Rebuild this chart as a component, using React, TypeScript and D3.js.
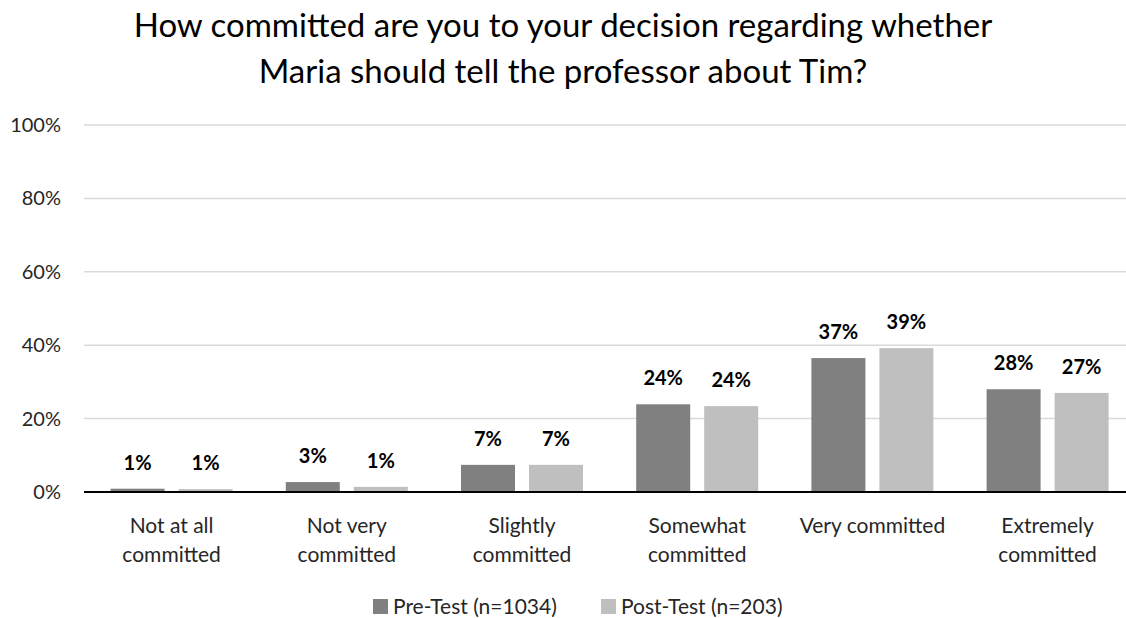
import React from "react";
import * as d3 from "d3";

const categories: string[][] = [
  ["Not at all", "committed"],
  ["Not very", "committed"],
  ["Slightly", "committed"],
  ["Somewhat", "committed"],
  ["Very committed"],
  ["Extremely", "committed"],
];
const categoryKeys = ["c1", "c2", "c3", "c4", "c5", "c6"];
const seriesNames = ["Pre-Test (n=1034)", "Post-Test (n=203)"];
const preTest = [0.9, 2.7, 7.4, 23.9, 36.5, 28.0];
const postTest = [0.8, 1.4, 7.4, 23.4, 39.2, 27.0];
const preLabels = ["1%", "3%", "7%", "24%", "37%", "28%"];
const postLabels = ["1%", "1%", "7%", "24%", "39%", "27%"];
const yTicks = [0, 20, 40, 60, 80, 100];
const titleLines = [
  "How committed are you to your decision regarding whether",
  "Maria should tell the professor about Tim?",
];
const colors = ["#808080", "#bfbfbf"];

const W = 1126;
const H = 618;
const FONT = "Lato, 'Open Sans', sans-serif";

export default function App() {
  const y = d3.scaleLinear().domain([0, 100]).range([492, 125]);
  const x0 = d3
    .scaleBand<string>()
    .domain(categoryKeys)
    .range([84, 84 + 6 * 175.2])
    .paddingInner(0)
    .paddingOuter(0);
  const x1 = d3
    .scaleBand<number>()
    .domain([0, 1])
    .range([0, x0.bandwidth()])
    .paddingInner(0.206)
    .paddingOuter(0.391);
  const values = [preTest, postTest];
  const labels = [preLabels, postLabels];

  return (
    <svg
      width={W}
      height={H}
      style={{ position: "absolute", left: 0, top: 0, background: "#fff" }}
      fontFamily={FONT}
    >
      <rect x={0} y={0} width={W} height={H} fill="#fff" />
      {titleLines.map((t, i) => (
        <text
          key={i}
          x={563}
          y={37 + i * 46}
          textAnchor="middle"
          fontSize={33}
          fill="#000"
        >
          {t}
        </text>
      ))}
      {yTicks.map((t) => (
        <g key={t}>
          {t !== 0 && (
            <line
              x1={84}
              x2={W}
              y1={y(t)}
              y2={y(t)}
              stroke="#d9d9d9"
              strokeWidth={1.5}
            />
          )}
          <text
            x={61}
            y={y(t)}
            dy="0.35em"
            textAnchor="end"
            fontSize={20}
            fill="#262626"
          >
            {t + "%"}
          </text>
        </g>
      ))}
      {categoryKeys.map((k, ci) => (
        <g key={k} transform={`translate(${x0(k)},0)`}>
          {values.map((vals, si) => (
            <g key={si}>
              <rect
                x={x1(si)}
                y={y(vals[ci])}
                width={x1.bandwidth()}
                height={y(0) - y(vals[ci])}
                fill={colors[si]}
              />
              <text
                x={(x1(si) as number) + x1.bandwidth() / 2}
                y={y(vals[ci]) - 19}
                textAnchor="middle"
                fontSize={20}
                fontWeight="bold"
                fill="#000"
              >
                {labels[si][ci]}
              </text>
            </g>
          ))}
          {categories[ci].map((line, li) => (
            <text
              key={li}
              x={x0.bandwidth() / 2}
              y={533 + li * 29}
              textAnchor="middle"
              fontSize={21}
              fill="#262626"
            >
              {line}
            </text>
          ))}
        </g>
      ))}
      <line x1={84} x2={W} y1={y(0)} y2={y(0)} stroke="#000" strokeWidth={2} />
      {seriesNames.map((s, i) => {
        const lx = [373, 601][i];
        return (
          <g key={s}>
            <rect x={lx} y={599} width={15} height={15} fill={colors[i]} />
            <text x={lx + 20} y={614} fontSize={21} fill="#262626">
              {s}
            </text>
          </g>
        );
      })}
    </svg>
  );
}
